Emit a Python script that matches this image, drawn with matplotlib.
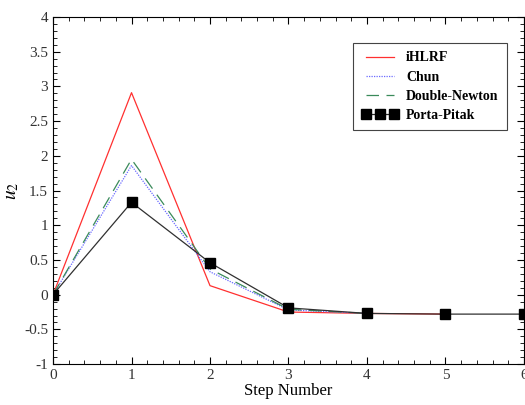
import matplotlib.pyplot as plt
from matplotlib.ticker import MultipleLocator

plt.rcParams['font.family'] = ['Liberation Serif', 'DejaVu Serif']
plt.rcParams['mathtext.fontset'] = 'stix'

steps_ihlrf = [0, 1, 2, 3, 4, 5]
u2_ihlrf = [0, 2.91, 0.13, -0.25, -0.27, -0.28]

steps_chun = [0, 1, 2, 3, 4]
u2_chun = [0, 1.86, 0.33, -0.22, -0.27]

steps_dn = [0, 1, 2, 3, 4]
u2_dn = [0, 1.95, 0.37, -0.21, -0.27]

steps_pp = [0, 1, 2, 3, 4, 5, 6]
u2_pp = [0, 1.33, 0.46, -0.19, -0.27, -0.28, -0.28]

fig = plt.figure(figsize=(5.25, 4.05), dpi=100)
ax = fig.add_axes([0.101, 0.101, 0.897, 0.857])

ax.plot(steps_ihlrf, u2_ihlrf, color='#ff3030', lw=0.9, label='iHLRF')
ax.plot(steps_chun, u2_chun, color='#6a6aff', lw=0.9, ls=(0, (1, 1)), label='Chun')
ax.plot(steps_dn, u2_dn, color='#3a8a5a', lw=0.9, ls=(0, (10, 6)), label='Double-Newton')
ax.plot(steps_pp, u2_pp, color='#303030', lw=0.9, marker='s', ms=7,
        mfc='black', mec='black', label='Porta-Pitak')

ax.set_xlim(0, 6)
ax.set_ylim(-1, 4)
ax.xaxis.set_major_locator(MultipleLocator(1))
ax.xaxis.set_minor_locator(MultipleLocator(0.2))
ax.yaxis.set_major_locator(MultipleLocator(0.5))
ax.yaxis.set_minor_locator(MultipleLocator(0.1))
ax.tick_params(which='both', direction='in', top=True, right=True,
               labelsize=11, labelcolor='#333333')
ax.tick_params(which='major', length=5)
ax.tick_params(which='minor', length=3)
ax.set_yticklabels([f'{v:g}' for v in ax.get_yticks()])

ax.set_xlabel('Step Number', fontsize=12, labelpad=1)
ax.set_ylabel('$u_2$', fontsize=14, labelpad=2)

leg = ax.legend(loc='upper right', bbox_to_anchor=(0.964, 0.925), borderaxespad=0,
                fancybox=False, edgecolor='#444444', framealpha=1,
                prop={'weight': 'bold', 'size': 10},
                handlelength=2.6, handletextpad=0.6, numpoints=3,
                borderpad=0.6, labelspacing=0.45)
leg.get_frame().set_linewidth(0.8)

fig.savefig('out.png', dpi=100)
